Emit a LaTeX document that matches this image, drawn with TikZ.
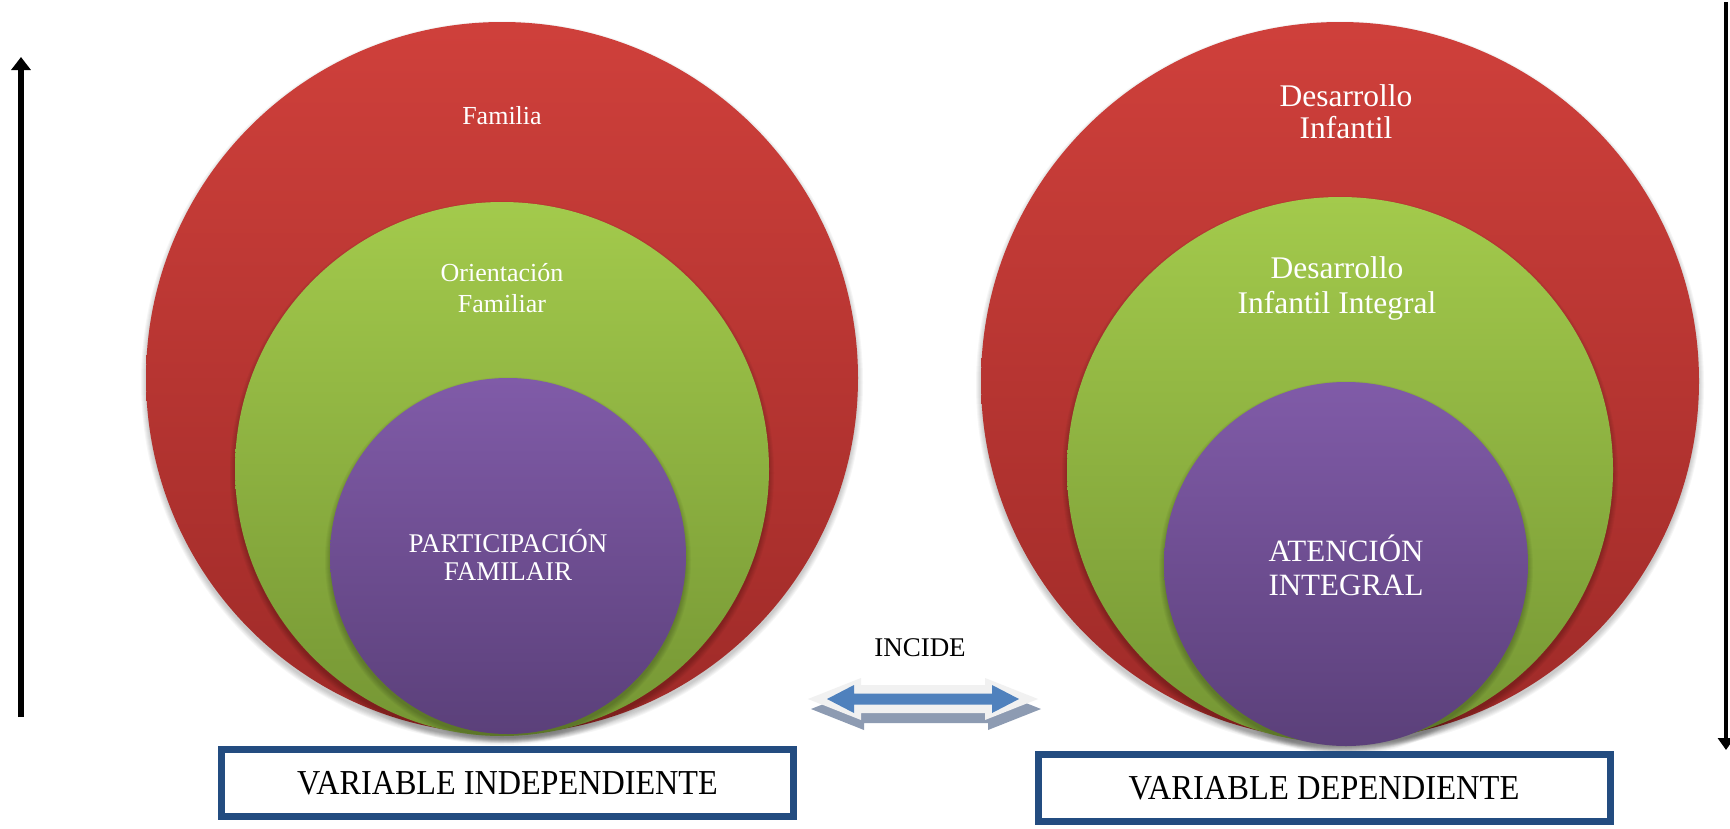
\documentclass[tikz,border=0pt]{standalone}
\usepackage{fontspec}
\setmainfont{Liberation Serif}
\usetikzlibrary{arrows.meta}
\definecolor{redtop}{RGB}{207,64,59}
\definecolor{redbot}{RGB}{158,42,40}
\definecolor{greentop}{RGB}{163,202,76}
\definecolor{greenbot}{RGB}{117,150,52}
\definecolor{purptop}{RGB}{128,91,168}
\definecolor{purpbot}{RGB}{91,64,122}
\definecolor{boxblue}{RGB}{35,76,128}
\definecolor{arrblue}{RGB}{79,129,189}
\definecolor{arrlight}{RGB}{241,241,241}
\definecolor{arrshadow}{RGB}{141,155,178}
\newcommand\myshadow[3]{%
  \foreach \k in {0,...,5}{\fill[black,opacity=0.035] (#1,{#2+4}) circle[radius={#3pt+\k pt}];}}
\newcommand\mydblarrow[7]{%
  \fill[#7] ({#1-#3},#2) -- ({#1-#3+#4},{#2-#5}) -- ({#1-#3+#4},{#2-#6}) -- ({#1+#3-#4},{#2-#6}) -- ({#1+#3-#4},{#2-#5}) -- ({#1+#3},#2) -- ({#1+#3-#4},{#2+#5}) -- ({#1+#3-#4},{#2+#6}) -- ({#1-#3+#4},{#2+#6}) -- ({#1-#3+#4},{#2+#5}) -- cycle;}
\begin{document}
\begin{tikzpicture}[x=1pt,y=-1pt,
  disc/.style={circle, inner sep=0pt, draw=none},
  reddisc/.style={disc, top color=redtop, bottom color=redbot},
  greendisc/.style={disc, top color=greentop, bottom color=greenbot},
  purpdisc/.style={disc, top color=purptop, bottom color=purpbot},
  lbl/.style={text=white, align=center, inner sep=0pt},
  vbox/.style={draw=boxblue, line width=7pt, fill=white, minimum width=572pt, minimum height=67pt, inner sep=0pt, font=\fontsize{35}{38}\selectfont},
  vline/.style={line width=#1, black}
 ]
\useasboundingbox[fill=white] (0,0) rectangle (1730,828);

% ---------- left group ----------
\myshadow{502}{378}{356}
\node[reddisc, minimum size=712pt] (lred) at (502,378) {};
\myshadow{502}{469}{267}
\node[greendisc, minimum size=534pt] (lgreen) at (502,469) {};
\myshadow{508}{556}{178}
\node[purpdisc, minimum size=356pt] (lpurp) at (508,556) {};

\node[lbl, font=\fontsize{26}{31}\selectfont] (tfam) at (502,116) {Familia};
\node[lbl, font=\fontsize{26}{31}\selectfont] (tori) at (502,288) {Orientación\\Familiar};
\node[lbl, font=\fontsize{27}{28}\selectfont] (tpart) at (508,555) {PARTICIPACIÓN\\FAMILAIR};

% ---------- right group ----------
\myshadow{1340}{381}{359}
\node[reddisc, minimum size=718pt] (rred) at (1340,381) {};
\myshadow{1340}{470}{273}
\node[greendisc, minimum size=546pt] (rgreen) at (1340,470) {};
\myshadow{1346}{564}{182}
\node[purpdisc, minimum size=364pt] (rpurp) at (1346,564) {};

\node[lbl, font=\fontsize{31.5}{32}\selectfont] (tdes) at (1346,112) {Desarrollo\\Infantil};
\node[lbl, font=\fontsize{31.5}{35}\selectfont] (tdii) at (1337,288) {Desarrollo\\Infantil Integral};
\node[lbl, font=\fontsize{31}{34}\selectfont] (tat) at (1346,565) {ATENCIÓN\\INTEGRAL};

% ---------- boxes ----------
\node[vbox] (vind) at (507.5,783) {\scalebox{0.92}[1]{VARIABLE INDEPENDIENTE}};
\node[vbox] (vdep) at (1324,788) {\scalebox{0.93}[1]{VARIABLE DEPENDIENTE}};

% ---------- double arrow ----------
\node[font=\fontsize{27}{30}\selectfont, inner sep=0pt] (tinc) at (920,648) {INCIDE};
\mydblarrow{926}{709}{115}{53}{21}{14}{arrshadow}
\mydblarrow{923}{699}{115}{53}{21}{14}{arrlight}
\mydblarrow{923}{699}{96}{27}{14}{5.5}{arrblue}

% ---------- side arrows ----------
\coordinate (la) at (21,717);
\coordinate (lb) at (21,57);
\draw[vline=6pt, -{Triangle[width=19pt,length=13pt]}] (la) -- (lb);
\coordinate (ra) at (1726,2);
\coordinate (rb) at (1726,750);
\draw[vline=4pt, -{Triangle[width=16pt,length=12pt]}] (ra) -- (rb);
\end{tikzpicture}
\end{document}
